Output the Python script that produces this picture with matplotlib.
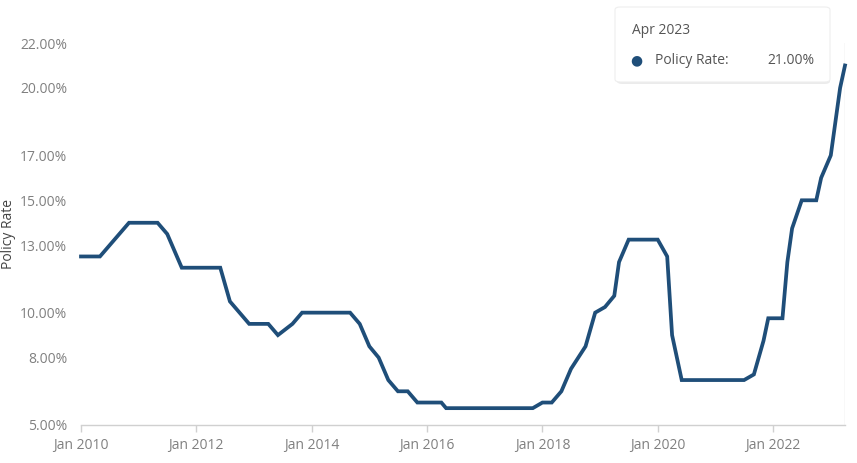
import matplotlib
matplotlib.use("Agg")
import matplotlib.pyplot as plt
import matplotlib.dates as mdates
from matplotlib.patches import FancyBboxPatch
import numpy as np
import pandas as pd

plt.rcParams['font.family'] = ['Open Sans', 'DejaVu Sans']

# vertices of the policy rate line (month, rate %)
months = ["2010-01", "2010-05", "2010-11", "2011-05", "2011-07", "2011-10",
          "2012-06", "2012-08", "2012-10", "2012-12", "2013-04", "2013-06",
          "2013-09", "2013-11", "2014-09", "2014-11", "2015-01", "2015-03",
          "2015-05", "2015-07", "2015-09", "2015-11", "2016-04", "2016-05",
          "2017-11", "2018-01", "2018-03", "2018-05", "2018-07", "2018-10",
          "2018-12", "2019-02", "2019-04", "2019-05", "2019-07", "2020-01",
          "2020-03", "2020-04", "2020-06", "2021-07", "2021-09", "2021-11",
          "2021-12", "2022-03", "2022-04", "2022-05", "2022-07", "2022-10",
          "2022-11", "2023-01", "2023-03", "2023-04"]
rates = [12.5, 12.5, 14.0, 14.0, 13.5, 12.0,
         12.0, 10.5, 10.0, 9.5, 9.5, 9.0,
         9.5, 10.0, 10.0, 9.5, 8.5, 8.0,
         7.0, 6.5, 6.5, 6.0, 6.0, 5.75,
         5.75, 6.0, 6.0, 6.5, 7.5, 8.5,
         10.0, 10.25, 10.75, 12.25, 13.25, 13.25,
         12.5, 9.0, 7.0, 7.0, 7.25, 8.75,
         9.75, 9.75, 12.25, 13.75, 15.0, 15.0,
         16.0, 17.0, 20.0, 21.0]

y_ticks = [5, 8, 10, 13, 15, 17, 20, 22]
x_ticks = ["2010-01", "2012-01", "2014-01", "2016-01", "2018-01", "2020-01", "2022-01"]

dates = pd.to_datetime(months)
line_color = "#1f4e79"
grey = "#808080"

fig = plt.figure(figsize=(8.57, 4.63), dpi=100)
ax = fig.add_axes([81 / 857, 38 / 463, (845 - 81) / 857, (425 - 43) / 463])

ax.plot(dates, rates, color=line_color, linewidth=2.7, solid_joinstyle="miter",
        clip_on=False, zorder=3)

ax.set_xlim(pd.Timestamp("2010-01-01"), pd.Timestamp("2023-04-01"))
ax.set_ylim(5, 22)

ax.set_yticks(y_ticks)
ax.set_yticklabels(["%.2f%%" % v for v in y_ticks])
ax.set_xticks(pd.to_datetime(x_ticks))
ax.xaxis.set_major_formatter(mdates.DateFormatter("Jan %Y"))

for s in ["top", "right", "left"]:
    ax.spines[s].set_visible(False)
ax.spines["bottom"].set_color("#d0d0d0")
ax.spines["bottom"].set_linewidth(1.0)

ax.tick_params(axis="y", length=0, pad=10, labelsize=10, labelcolor=grey)
ax.tick_params(axis="x", length=5, width=1, color="#d0d0d0", pad=4,
               labelsize=10, labelcolor=grey)

ax.set_ylabel("Policy Rate", fontsize=10, color="#444444")
ax.yaxis.set_label_coords(-0.085, 0.5)

# hover crosshair
ax.axvline(pd.Timestamp("2023-04-01"), color="#dddddd", linewidth=1, zorder=1)

# tooltip
shadow = FancyBboxPatch((617 / 857, 1 - 84 / 463), 213 / 857, 74 / 463,
                        boxstyle="round,pad=0,rounding_size=0.006",
                        transform=fig.transFigure, facecolor="#000000",
                        alpha=0.08, edgecolor="none", zorder=9)
box = FancyBboxPatch((615 / 857, 1 - 82 / 463), 215 / 857, 75 / 463,
                     boxstyle="round,pad=0,rounding_size=0.006",
                     transform=fig.transFigure, facecolor="white",
                     edgecolor="#eeeeee", linewidth=0.8, zorder=10)
fig.patches.extend([shadow, box])
fig.text(632 / 857, 1 - 31 / 463, "Apr 2023", fontsize=10, color="#555555",
         va="center", zorder=11)
fig.text(636 / 857, 1 - 61 / 463, "\u25CF", fontsize=10, color=line_color,
         va="center", ha="center", zorder=11)
fig.text(655 / 857, 1 - 61 / 463, "Policy Rate:", fontsize=10, color="#555555",
         va="center", zorder=11)
fig.text(815 / 857, 1 - 61 / 463, "%.2f%%" % rates[-1], fontsize=10,
         color="#555555", va="center", ha="right", zorder=11)

fig.savefig("out.png", dpi=100)
